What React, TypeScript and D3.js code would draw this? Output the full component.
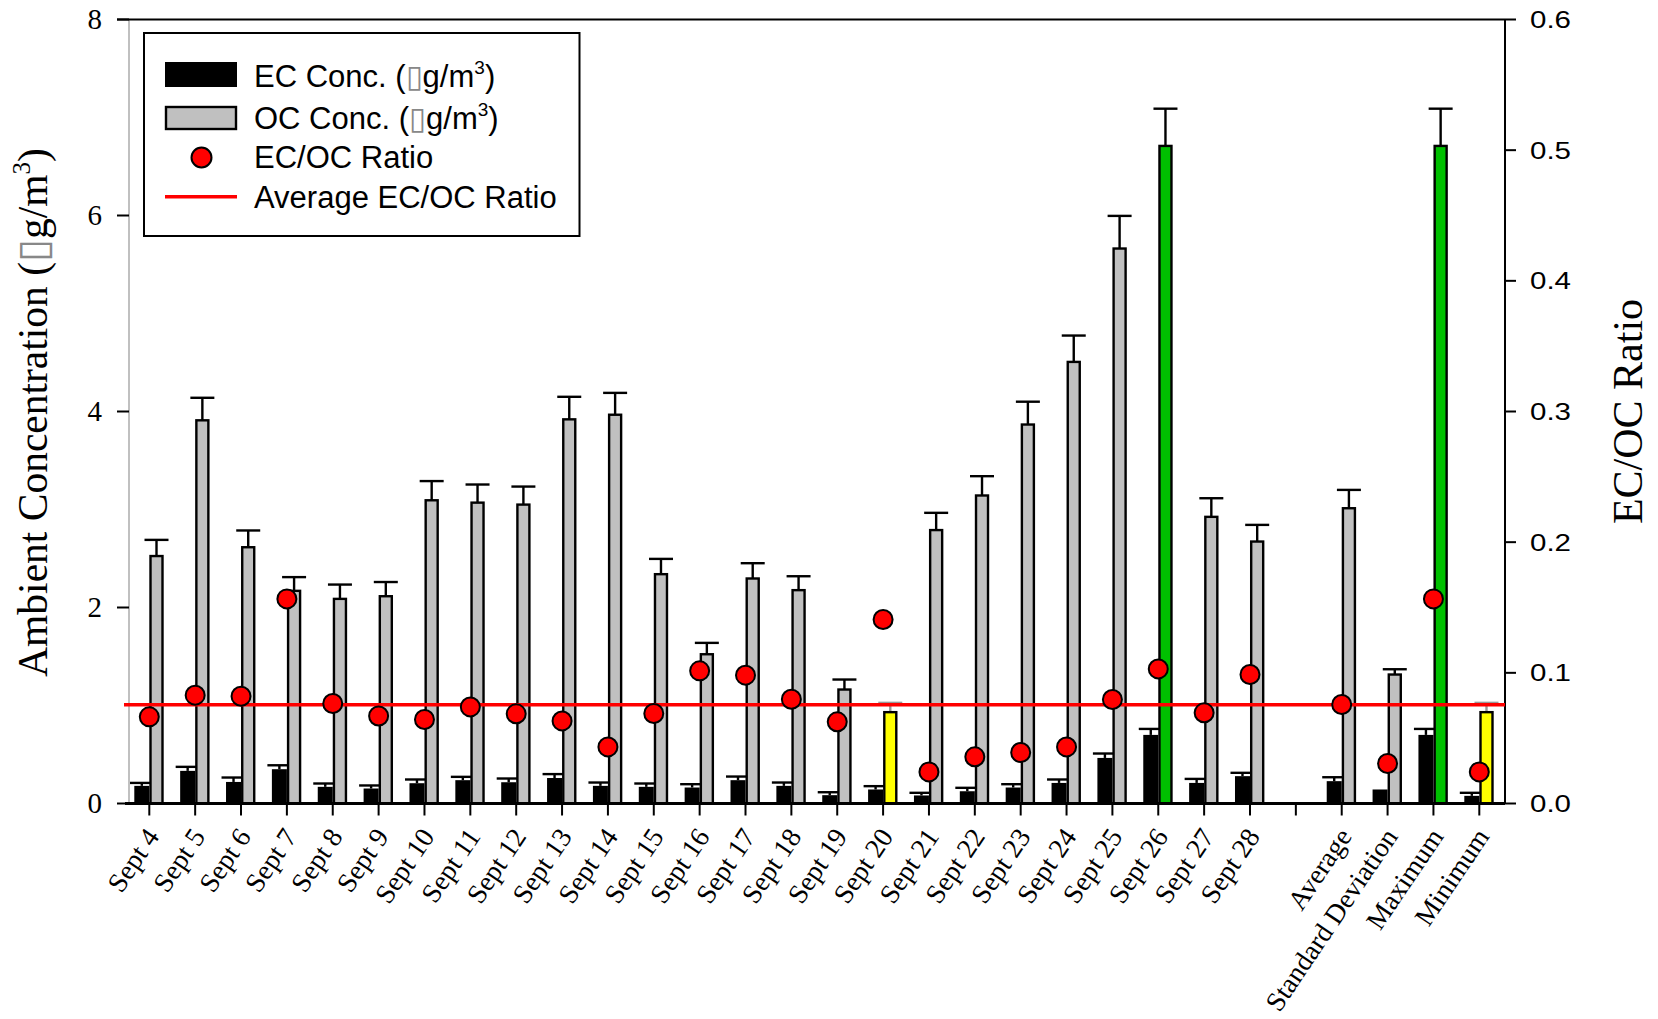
import React from 'react';
import * as d3 from 'd3';

// Sampling days plus summary statistics (empty slot separates the two groups)
const categories = [
  'Sept 4', 'Sept 5', 'Sept 6', 'Sept 7', 'Sept 8', 'Sept 9', 'Sept 10', 'Sept 11',
  'Sept 12', 'Sept 13', 'Sept 14', 'Sept 15', 'Sept 16', 'Sept 17', 'Sept 18',
  'Sept 19', 'Sept 20', 'Sept 21', 'Sept 22', 'Sept 23', 'Sept 24', 'Sept 25',
  'Sept 26', 'Sept 27', 'Sept 28', '', 'Average', 'Standard Deviation', 'Maximum', 'Minimum',
];

// Elemental carbon concentration (µg/m3) and upper end of its error bar
const ecConc = [
  0.18, 0.333, 0.22, 0.35, 0.17, 0.153, 0.207, 0.238, 0.217, 0.26, 0.18, 0.17, 0.163,
  0.238, 0.18, 0.085, 0.143, 0.082, 0.125, 0.163, 0.21, 0.465, 0.7, 0.21, 0.279,
  null, 0.228, 0.143, 0.7, 0.078,
];
const ecUpper = [
  0.21, 0.374, 0.265, 0.39, 0.204, 0.184, 0.245, 0.272, 0.255, 0.3, 0.214, 0.204, 0.197,
  0.275, 0.214, 0.115, 0.177, 0.109, 0.16, 0.197, 0.245, 0.51, 0.761, 0.251, 0.313,
  null, 0.268, 0.143, 0.761, 0.109,
];

// Organic carbon concentration (µg/m3) and upper end of its error bar
const ocConc = [
  2.525, 3.91, 2.615, 2.17, 2.088, 2.115, 3.094, 3.07, 3.05, 3.92, 3.967, 2.34, 1.523,
  2.296, 2.177, 1.163, 0.932, 2.79, 3.143, 3.867, 4.506, 5.663, 6.71, 2.925, 2.673,
  null, 3.013, 1.316, 6.71, 0.932,
];
const ocUpper = [
  2.69, 4.14, 2.786, 2.31, 2.234, 2.26, 3.29, 3.255, 3.234, 4.15, 4.19, 2.496, 1.639,
  2.452, 2.319, 1.265, 1.027, 2.966, 3.34, 4.1, 4.775, 5.996, 7.09, 3.115, 2.843,
  null, 3.2, 1.37, 7.09, 1.027,
];

// EC/OC ratio per category (right axis)
const ecOcRatio = [
  0.0663, 0.0829, 0.0821, 0.1566, 0.0765, 0.067, 0.0643, 0.0739, 0.0686, 0.0632, 0.0433,
  0.0689, 0.1015, 0.0982, 0.0798, 0.0625, 0.1408, 0.0242, 0.0357, 0.039, 0.0433, 0.0796,
  0.103, 0.0694, 0.0987, null, 0.0758, 0.0306, 0.1566, 0.0242,
];

const averageRatio = 0.0755;

const concTicks = [0, 2, 4, 6, 8];
const ratioTicks = [0, 0.1, 0.2, 0.3, 0.4, 0.5, 0.6];

const W = 1658;
const H = 1019;
const plot = { left: 129, right: 1505, top: 19.5, bottom: 803.5 };

const SERIF = '"Liberation Serif", "Times New Roman", serif';
const SANS = '"Liberation Sans", Arial, sans-serif';
const BOX = '\u25AF';

export default function App() {
  const idx = d3.range(categories.length);
  const x = d3.scaleLinear().domain([0, categories.length - 1]).range([plot.left + 20.3, plot.right - 25.7]);
  const y = d3.scaleLinear().domain([0, 8]).range([plot.bottom, plot.top]);
  const yr = d3.scaleLinear().domain([0, 0.6]).range([plot.bottom, plot.top]);

  const dayOC = ocConc.slice(0, 25) as number[];
  const ocMax = d3.max(dayOC) as number;
  const ocMin = d3.min(dayOC) as number;
  const ocFill = (v: number) => (v === ocMax ? '#00c000' : v === ocMin ? '#ffff00' : '#c0c0c0');

  const ecW = 15;
  const ocW = 14.4;
  const capHalf = 12;
  const sw = 2.4;

  return (
    <svg width={W} height={H} style={{ position: 'absolute', left: 0, top: 0, background: '#fff' }}>
      <rect x={0} y={0} width={W} height={H} fill="#fff" />

      {/* EC bars with error bars */}
      {idx.map((i) => {
        const v = ecConc[i];
        if (v == null) return null;
        const cx = x(i);
        const bc = cx - ecW / 2;
        const up = ecUpper[i] as number;
        return (
          <g key={'ec' + i}>
            {up > v && (
              <>
                <line x1={bc} x2={bc} y1={y(v)} y2={y(up)} stroke="#000" strokeWidth={sw} />
                <line x1={bc - capHalf} x2={bc + capHalf} y1={y(up)} y2={y(up)} stroke="#000" strokeWidth={sw} />
              </>
            )}
            <rect x={cx - ecW} y={y(v)} width={ecW} height={plot.bottom - y(v)} fill="#000" />
          </g>
        );
      })}

      {/* OC bars with error bars */}
      {idx.map((i) => {
        const v = ocConc[i];
        if (v == null) return null;
        const cx = x(i);
        const bc = cx + ocW / 2;
        const up = ocUpper[i] as number;
        const fill = ocFill(v);
        const errColor = fill === '#ffff00' ? '#999' : '#000';
        return (
          <g key={'oc' + i}>
            <line x1={bc} x2={bc} y1={y(v)} y2={y(up)} stroke={errColor} strokeWidth={sw} />
            <line x1={bc - capHalf} x2={bc + capHalf} y1={y(up)} y2={y(up)} stroke={errColor} strokeWidth={sw} />
            <rect
              x={cx + sw / 2}
              y={y(v)}
              width={ocW - sw}
              height={plot.bottom - y(v)}
              fill={fill}
              stroke="#000"
              strokeWidth={sw}
            />
          </g>
        );
      })}

      {/* Frame: grey left axis, black top, right and bottom */}
      <line x1={plot.left} x2={plot.left} y1={plot.top} y2={plot.bottom} stroke="#c0c0c0" strokeWidth={2} />
      <line x1={plot.left - 12} x2={plot.right} y1={plot.top} y2={plot.top} stroke="#000" strokeWidth={2} />
      <line x1={plot.right} x2={plot.right} y1={plot.top} y2={plot.bottom} stroke="#000" strokeWidth={2} />
      <line x1={plot.left - 4} x2={plot.right} y1={plot.bottom} y2={plot.bottom} stroke="#000" strokeWidth={3} />

      {/* Average ratio reference line */}
      <line
        x1={plot.left - 5}
        x2={plot.right}
        y1={yr(averageRatio)}
        y2={yr(averageRatio)}
        stroke="#ff0000"
        strokeWidth={3.5}
      />

      {/* Ratio markers */}
      {idx.map((i) => {
        const r = ecOcRatio[i];
        if (r == null) return null;
        return <circle key={'r' + i} cx={x(i)} cy={yr(r)} r={9.5} fill="#ff0000" stroke="#000" strokeWidth={2} />;
      })}

      {/* Left axis ticks and labels */}
      {concTicks.map((t) => (
        <g key={'lt' + t}>
          <line x1={plot.left - 12} x2={plot.left} y1={y(t)} y2={y(t)} stroke="#000" strokeWidth={2} />
          <text
            x={plot.left - 27}
            y={y(t)}
            dy="0.34em"
            textAnchor="end"
            fontFamily={SERIF}
            fontSize={29}
            fill="#000"
          >
            {t}
          </text>
        </g>
      ))}

      {/* Right axis ticks and labels */}
      {ratioTicks.map((t) => (
        <g key={'rt' + t}>
          <line x1={plot.right} x2={plot.right + 11} y1={yr(t)} y2={yr(t)} stroke="#000" strokeWidth={2} />
          <text
            x={plot.right + 25}
            y={yr(t)}
            dy="0.36em"
            fontFamily={SANS}
            fontSize={24}
            textLength={41}
            lengthAdjust="spacingAndGlyphs"
            fill="#000"
          >
            {t.toFixed(1)}
          </text>
        </g>
      ))}

      {/* Bottom axis ticks and rotated category labels */}
      {idx.map((i) => (
        <g key={'bt' + i}>
          <line x1={x(i)} x2={x(i)} y1={plot.bottom} y2={plot.bottom + 12} stroke="#000" strokeWidth={2} />
          {categories[i] && (
            <text
              transform={`translate(${x(i) + 11},${plot.bottom + 33}) rotate(-56)`}
              textAnchor="end"
              fontFamily={SERIF}
              fontSize={27.5}
              fill="#000"
            >
              {categories[i]}
            </text>
          )}
        </g>
      ))}

      {/* Axis titles */}
      <text
        transform={`translate(47,${(plot.top + plot.bottom) / 2 + 1}) rotate(-90)`}
        textAnchor="middle"
        fontFamily={SERIF}
        fontSize={41.5}
        fill="#000"
      >
        Ambient Concentration (<tspan fill="#888">{BOX}</tspan>g/m
        <tspan fontSize={25} dy={-17}>3</tspan>
        <tspan dy={17}>)</tspan>
      </text>
      <text
        transform={`translate(1642,${(plot.top + plot.bottom) / 2}) rotate(-90)`}
        textAnchor="middle"
        fontFamily={SERIF}
        fontSize={42}
        fill="#000"
      >
        EC/OC Ratio
      </text>

      {/* Legend */}
      <g>
        <rect x={144} y={33} width={435.5} height={203} fill="#fff" stroke="#000" strokeWidth={2} />
        <rect x={165} y={62} width={72} height={25} fill="#000" />
        <rect x={166} y={107} width={70} height={22} fill="#c0c0c0" stroke="#000" strokeWidth={2.4} />
        <circle cx={201.5} cy={157.5} r={10} fill="#ff0000" stroke="#000" strokeWidth={2} />
        <line x1={165} x2={237} y1={196.7} y2={196.7} stroke="#ff0000" strokeWidth={3.5} />
        <g fontFamily={SANS} fontSize={31} fill="#000">
          <text x={254} y={87}>
            EC Conc. (<tspan fill="#888">{BOX}</tspan>g/m<tspan fontSize={19} dy={-13}>3</tspan>
            <tspan dy={13}>)</tspan>
          </text>
          <text x={254} y={128.5}>
            OC Conc. (<tspan fill="#888">{BOX}</tspan>g/m<tspan fontSize={19} dy={-13}>3</tspan>
            <tspan dy={13}>)</tspan>
          </text>
          <text x={254} y={168}>EC/OC Ratio</text>
          <text x={254} y={207.5}>Average EC/OC Ratio</text>
        </g>
      </g>
    </svg>
  );
}
